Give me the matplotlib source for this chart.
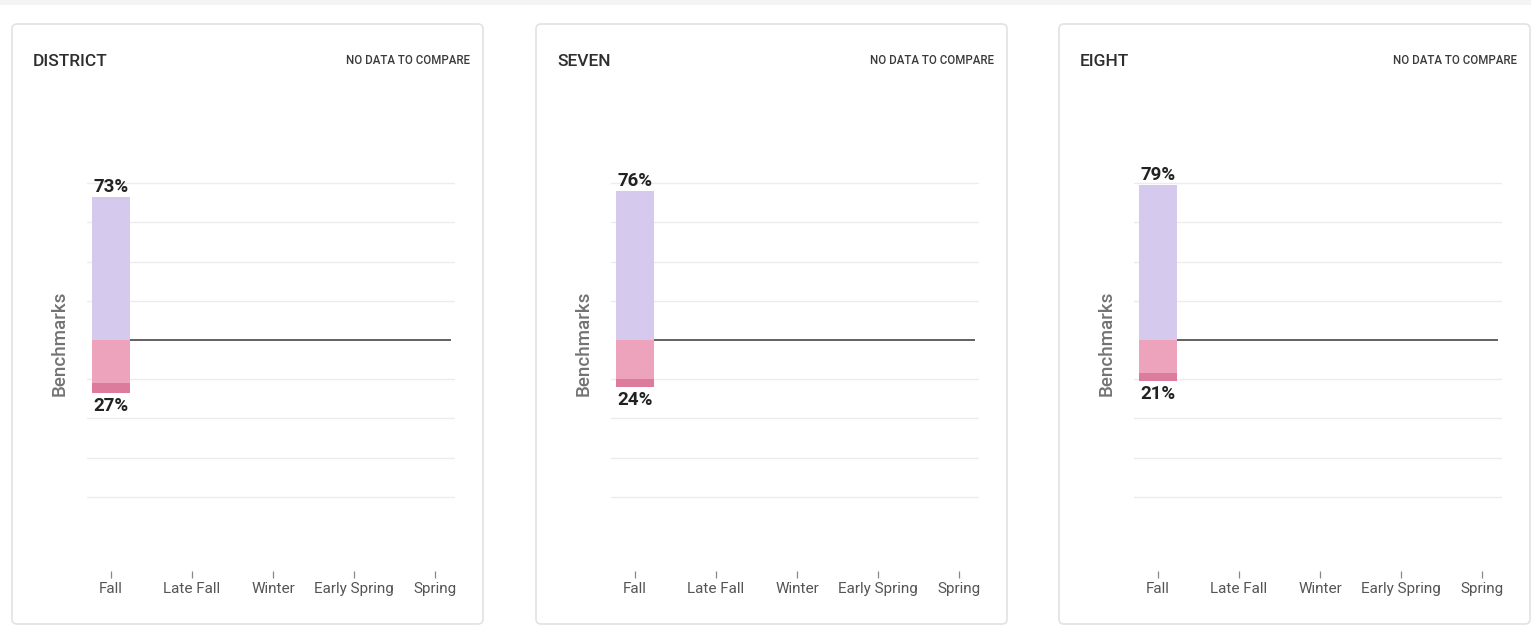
import matplotlib
matplotlib.use("Agg")
import matplotlib.pyplot as plt
from matplotlib.patches import FancyBboxPatch, Rectangle

plt.rcParams['font.family'] = ['Roboto', 'DejaVu Sans']

# Data
groups = ["DISTRICT", "SEVEN", "EIGHT"]
periods = ["Fall", "Late Fall", "Winter", "Early Spring", "Spring"]
at_or_above = [73, 76, 79]          # purple, above benchmark
some_risk = [22, 20, 17]            # light pink, below benchmark
high_risk = [5, 4, 4]               # dark pink, well below benchmark
below_total = [27, 24, 21]          # labelled total below benchmark

W, H = 1531, 626
DPI = 100

COL_ABOVE = "#d6c9ee"
COL_SOME = "#eea3bd"
COL_HIGH = "#dc7b9c"
GRID = "#ececec"

fig = plt.figure(figsize=(W / DPI, H / DPI), dpi=DPI)
fig.patch.set_facecolor("white")


def fx(px):
    return px / W


def fy(py):
    # top-origin pixel -> figure fraction
    return 1 - py / H


# light page strip along the top
fig.patches.append(Rectangle((0, fy(5)), 1, 5 / H, transform=fig.transFigure,
                             facecolor="#f4f4f4", edgecolor="none", zorder=0))

card_lefts = [12, 536, 1059]
card_w, card_top, card_bot = 471, 24, 624

for i, name in enumerate(groups):
    cl = card_lefts[i]
    # card background with a soft border
    card = FancyBboxPatch((cl, H - card_bot), card_w, card_bot - card_top,
                          boxstyle="round,pad=0,rounding_size=5",
                          transform=None, facecolor="white",
                          edgecolor="#e2e2e2", linewidth=1.2, zorder=1)
    fig.patches.append(card)

    fig.text(fx(cl + 21), fy(62), name, fontsize=12.5, fontweight="medium",
             color="#2e2e2e", ha="left", va="center")
    fig.text(fx(cl + 458), fy(61), "NO DATA TO COMPARE", fontsize=8.3,
             fontweight="medium", color="#3a3a3a", ha="right", va="center")

    # axes: x from -0.3 to 4.25 (81 px per category), y 1.96 px per %
    ppc = 81.0
    x0, x1 = -0.3, 4.25
    y0, y1 = -118, 100
    ppu = 1.96
    ax_left = cl + 99 + x0 * ppc
    ax_w = (x1 - x0) * ppc
    ax_top = 340 - y1 * ppu
    ax_h = (y1 - y0) * ppu
    ax = fig.add_axes([fx(ax_left), fy(ax_top + ax_h), fx(ax_w), ax_h / H])
    ax.set_zorder(3)
    ax.patch.set_alpha(0)
    ax.set_xlim(x0, x1)
    ax.set_ylim(y0, y1)

    bw = 0.46
    for g in [-80, -60, -40, -20, 20, 40, 60, 80]:
        ax.axhline(g, color=GRID, linewidth=1.0, zorder=0)
    ax.hlines(0, -bw / 2, 4.2, color="#555555", linewidth=1.3, zorder=1)

    ax.bar(0, at_or_above[i], width=bw, color=COL_ABOVE, zorder=2)
    ax.bar(0, -some_risk[i], width=bw, color=COL_SOME, zorder=2)
    ax.bar(0, -high_risk[i], width=bw, bottom=-some_risk[i], color=COL_HIGH, zorder=2)

    ax.annotate(f"{at_or_above[i]}%", (0, at_or_above[i]), xytext=(0, 1),
                textcoords="offset points", ha="center", va="bottom",
                fontsize=13.5, fontweight="bold", color="#222222")
    ax.annotate(f"{below_total[i]}%", (0, -below_total[i]), xytext=(0, -3),
                textcoords="offset points", ha="center", va="top",
                fontsize=13.5, fontweight="bold", color="#222222")

    for s in ax.spines.values():
        s.set_visible(False)
    ax.set_yticks([])
    ax.set_xticks(range(len(periods)))
    ax.set_xticklabels(periods, fontsize=11, color="#555555")
    ax.tick_params(axis="x", length=5, width=0.9, color="#888888", pad=3)

    fig.text(fx(cl + 48), fy(343), "Benchmarks", rotation=90, fontsize=13.5,
             fontweight="medium", color="#737373", ha="center", va="center")

fig.savefig("out.png", dpi=DPI, facecolor="white")
